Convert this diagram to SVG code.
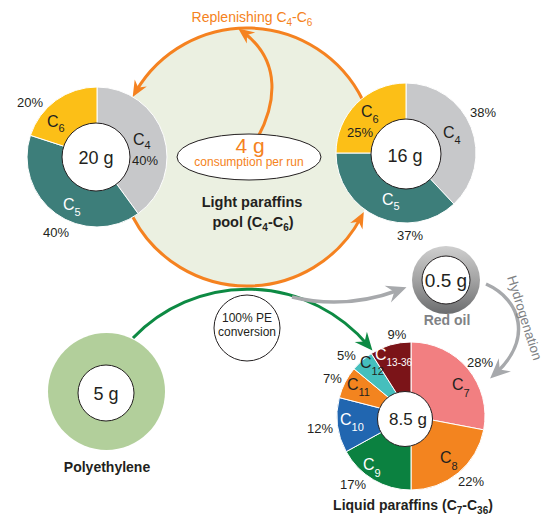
<svg xmlns="http://www.w3.org/2000/svg" width="548" height="523" viewBox="0 0 548 523">
<style>
.t{font-family:"Liberation Sans",Arial,sans-serif;fill:#231f20}
.pct{font-size:13px}
.c{font-size:16px}
.sub{font-size:11px}
.w{fill:#ffffff}
.b{font-weight:bold}
.or{fill:#f58220}
.gr{fill:#808285}
.big{font-size:18px}
.seg{stroke:#ffffff;stroke-width:1}
.hole{fill:#ffffff;stroke:#231f20;stroke-width:1}
.oline{fill:none;stroke:#f58220;stroke-width:3}
</style>
<defs>
<marker id="ao" viewBox="-17 -8 18 16" markerWidth="18" markerHeight="16" refX="-6" refY="0" orient="auto" markerUnits="userSpaceOnUse"><path d="M0,0 L-16,-7 L-11,0 L-16,7 Z" fill="#f58220"/></marker>
<marker id="ag" viewBox="-19 -9 20 18" markerWidth="20" markerHeight="18" refX="-7" refY="0" orient="auto" markerUnits="userSpaceOnUse"><path d="M0,0 L-18,-8 L-12,0 L-18,8 Z" fill="#0d8a43"/></marker>
<marker id="ay" viewBox="-21 -10 22 20" markerWidth="22" markerHeight="20" refX="-8" refY="0" orient="auto" markerUnits="userSpaceOnUse"><path d="M0,0 L-20,-9 L-13,0 L-20,9 Z" fill="#a7a9ac"/></marker>
<linearGradient id="metal" x1="0" y1="0" x2="0" y2="1"><stop offset="0" stop-color="#cfcfcf"/><stop offset="0.5" stop-color="#a3a3a3"/><stop offset="1" stop-color="#6b6c6e"/></linearGradient>
</defs>

<g id="pool">
<circle cx="247" cy="157" r="129" fill="#ebf0e1"/>
<text class="t b" x="252" y="207" font-size="14.5" text-anchor="middle">Light paraffins</text>
<text class="t b" x="253" y="227" font-size="14.5" text-anchor="middle">pool (C<tspan font-size="10" dy="4">4</tspan><tspan dy="-4">-C</tspan><tspan font-size="10" dy="4">6</tspan><tspan dy="-4">)</tspan></text>
</g>

<g id="connectors">
<path class="oline" d="M362.7,100 A129,129 0 0 0 135.7,91.7" marker-end="url(#ao)"/>
<path class="oline" d="M132.8,217 A129,129 0 0 0 361,217.4" marker-end="url(#ao)"/>
<path class="oline" d="M258,137 C275,105 283,62 243,32" marker-end="url(#ao)"/>
<path d="M133,338 A158,158 0 0 1 367.9,345.2" fill="none" stroke="#0d8a43" stroke-width="3" marker-end="url(#ag)"/>
<path d="M292,297 Q345,310 399,290" fill="none" stroke="#a7a9ac" stroke-width="3.5" marker-end="url(#ay)"/>
<path d="M486,284 C522,300 532,340 496,373" fill="none" stroke="#a7a9ac" stroke-width="3.5" marker-end="url(#ay)"/>
<text class="t or" x="252" y="22" font-size="14" text-anchor="middle">Replenishing C<tspan font-size="10" dy="4">4</tspan><tspan dy="-4">-C</tspan><tspan font-size="10" dy="4">6</tspan></text>
<text class="t gr" font-size="13.5" text-anchor="middle" transform="translate(524,318) rotate(72.4)" y="4">Hydrogenation</text>
</g>

<g id="left-donut">
<path class="seg" fill="#c7c8ca" d="M97,157 L97,87 A70,70 0 0 1 138.14,213.63 Z"/>
<path class="seg" fill="#3d7e7a" d="M97,157 L138.14,213.63 A70,70 0 0 1 30.43,135.37 Z"/>
<path class="seg" fill="#fcbf17" d="M97,157 L30.43,135.37 A70,70 0 0 1 97,87 Z"/>
<circle class="hole" cx="96" cy="157" r="34"/>
<text class="t big" x="96" y="164" text-anchor="middle">20 g</text>
<text class="t pct" x="17" y="107">20%</text>
<text class="t c" x="47" y="127">C<tspan class="sub" dy="5">6</tspan></text>
<text class="t c" x="133" y="145">C<tspan class="sub" dy="4">4</tspan></text>
<text class="t pct" x="132" y="165">40%</text>
<text class="t c w" x="63" y="210">C<tspan class="sub" dy="6">5</tspan></text>
<text class="t pct" x="43" y="237">40%</text>
</g>

<g id="right-donut">
<path class="seg" fill="#c7c8ca" d="M406,153 L406,83 A70,70 0 0 1 453.92,204.03 Z"/>
<path class="seg" fill="#3d7e7a" d="M406,153 L453.92,204.03 A70,70 0 0 1 336,153 Z"/>
<path class="seg" fill="#fcbf17" d="M406,153 L336,153 A70,70 0 0 1 406,83 Z"/>
<circle class="hole" cx="406" cy="154" r="35"/>
<text class="t big" x="405" y="162" text-anchor="middle">16 g</text>
<text class="t pct" x="470" y="117">38%</text>
<text class="t c" x="443" y="138">C<tspan class="sub" dy="6">4</tspan></text>
<text class="t c" x="361" y="117">C<tspan class="sub" dy="6">6</tspan></text>
<text class="t pct" x="347" y="137">25%</text>
<text class="t c w" x="382" y="205">C<tspan class="sub" dy="5">5</tspan></text>
<text class="t pct" x="397" y="240">37%</text>
</g>

<g id="consumption">
<ellipse cx="249" cy="157" rx="72" ry="23" fill="#ffffff" stroke="#231f20" stroke-width="1"/>
<text class="t or" x="250" y="153" font-size="21" text-anchor="middle">4 g</text>
<text class="t or" x="249" y="166" font-size="12" text-anchor="middle">consumption per run</text>
</g>

<g id="polyethylene">
<circle cx="106.5" cy="391.5" r="58.5" fill="#b2cf9b"/>
<circle class="hole" cx="106" cy="393" r="28"/>
<text class="t big" x="106" y="400" text-anchor="middle">5 g</text>
<text class="t b" x="107" y="472" font-size="14" text-anchor="middle">Polyethylene</text>
</g>

<g id="conversion">
<circle cx="247" cy="328" r="33" fill="#ffffff" stroke="#231f20" stroke-width="1"/>
<text class="t" x="247" y="322" font-size="12" text-anchor="middle">100% PE</text>
<text class="t" x="247" y="336" font-size="12" text-anchor="middle">conversion</text>
</g>

<g id="red-oil">
<circle cx="446" cy="280" r="34" fill="url(#metal)"/>
<circle class="hole" cx="446" cy="280" r="24"/>
<text class="t" x="446" y="287" font-size="19" text-anchor="middle">0.5 g</text>
<text class="t b gr" x="447" y="325" font-size="14" text-anchor="middle">Red oil</text>
</g>

<g id="liquid-paraffins">
<path class="seg" fill="#f27f81" d="M411,416 L411,342 A74,74 0 0 1 483.69,429.87 Z"/>
<path class="seg" fill="#f3841f" d="M411,416 L483.69,429.87 A74,74 0 0 1 411,490 Z"/>
<path class="seg" fill="#0b8140" d="M411,416 L411,490 A74,74 0 0 1 346.15,451.65 Z"/>
<path class="seg" fill="#2166b0" d="M411,416 L346.15,451.65 A74,74 0 0 1 339.32,397.6 Z"/>
<path class="seg" fill="#f3841f" d="M411,416 L339.32,397.6 A74,74 0 0 1 353.98,368.83 Z"/>
<path class="seg" fill="#45bfbd" d="M411,416 L353.98,368.83 A74,74 0 0 1 371.35,353.52 Z"/>
<path class="seg" fill="#7b1418" d="M411,416 L371.35,353.52 A74,74 0 0 1 411,342 Z"/>
<circle class="hole" cx="405" cy="419" r="27.5"/>
<text class="t" x="408" y="425" font-size="17" text-anchor="middle">8.5 g</text>
<text class="t pct" x="397" y="339" text-anchor="middle">9%</text>
<text class="t pct" x="467" y="367">28%</text>
<text class="t pct" x="337" y="360">5%</text>
<text class="t pct" x="323" y="383">7%</text>
<text class="t pct" x="333" y="433" text-anchor="end">12%</text>
<text class="t pct" x="340" y="489">17%</text>
<text class="t pct" x="458" y="486">22%</text>
<text class="t c" x="452" y="390">C<tspan class="sub" dy="7">7</tspan></text>
<text class="t c" x="440" y="463">C<tspan class="sub" dy="7">8</tspan></text>
<text class="t c w" x="363" y="470">C<tspan class="sub" dy="7">9</tspan></text>
<text class="t c w" x="340" y="425">C<tspan class="sub" dy="6">10</tspan></text>
<text class="t c" x="347" y="390">C<tspan class="sub" dy="6">11</tspan></text>
<text class="t c" x="360" y="368">C<tspan class="sub" dy="7">12</tspan></text>
<text class="t c w" x="375" y="360">C<tspan font-size="10" dy="6">13-36</tspan></text>
<text class="t b" x="413" y="510" font-size="14" text-anchor="middle">Liquid paraffins (C<tspan font-size="10" dy="4">7</tspan><tspan dy="-4">-C</tspan><tspan font-size="10" dy="4">36</tspan><tspan dy="-4">)</tspan></text>
</g>
</svg>
